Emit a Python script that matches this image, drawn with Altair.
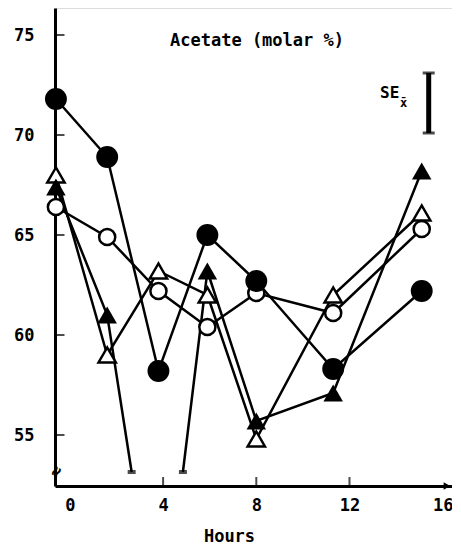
import altair as alt
import pandas as pd

# ---- data ----
hours = [-0.6, 1.6, 3.8, 5.9, 8.0, 11.3, 15.1]
filled_circle = [71.8, 68.9, 58.2, 65.0, 62.7, 58.3, 62.2]
open_circle = [66.4, 64.9, 62.2, 60.4, 62.1, 61.1, 65.3]
filled_triangle = [67.4, 61.0, None, 63.2, 55.7, 57.1, 68.2]   # 4 h value off scale
open_triangle = [68.0, 59.0, 63.2, 62.0, 54.8, 62.0, 66.1]
break_hours = [2.65, 4.85]      # where the off-scale line is cut
break_level = 53.15
y_ticks = [55, 60, 65, 70, 75]
x_ticks = [0, 4, 8, 12, 16]
se_hour = 15.4
se_top = 73.1
se_len = 3.0
title_text = "Acetate (molar %)"

FONT = "DejaVu Sans Mono"

series = {
    "fc": filled_circle,
    "oc": open_circle,
    "ft": filled_triangle,
    "ot": open_triangle,
}

line_rows, point_rows, break_rows = [], [], []
for name, vals in series.items():
    seg = 0
    for i, (h, v) in enumerate(zip(hours, vals)):
        if v is None:
            line_rows.append({"s": name, "seg": f"{name}{seg}", "h": break_hours[0], "v": break_level})
            break_rows.append({"h": break_hours[0], "v": break_level})
            seg += 1
            line_rows.append({"s": name, "seg": f"{name}{seg}", "h": break_hours[1], "v": break_level})
            break_rows.append({"h": break_hours[1], "v": break_level})
            continue
        line_rows.append({"s": name, "seg": f"{name}{seg}", "h": h, "v": v})
        point_rows.append({"s": name, "h": h, "v": v})

lines_df = pd.DataFrame(line_rows)
pts_df = pd.DataFrame(point_rows)
brk_df = pd.DataFrame(break_rows)

xs = alt.Scale(domain=[-0.64, 16.4], nice=False, zero=False)
ys = alt.Scale(domain=[52.45, 76.35], nice=False, zero=False)

X = alt.X("h:Q", scale=xs,
          axis=alt.Axis(values=x_ticks, ticks=False, labelPadding=11, grid=False,
                        title="Hours", titleX=174, titleY=42, titleBaseline="top",
                        titleFont=FONT, titleFontSize=17, titleFontWeight="bold",
                        labelFont=FONT, labelFontSize=17, labelFontWeight="bold",
                        labelColor="black", titleColor="black",
                        domainColor="black", domainWidth=3))
Y = alt.Y("v:Q", scale=ys,
          axis=alt.Axis(values=y_ticks, ticks=False, labelPadding=21, grid=False,
                        title=None,
                        labelFont=FONT, labelFontSize=17, labelFontWeight="bold",
                        labelColor="black", domainColor="black", domainWidth=3))

lines = alt.Chart(lines_df).mark_line(color="black", strokeWidth=2.5).encode(
    x=X, y=Y, detail="seg:N", order="h:Q")

def pts(name, **kw):
    return alt.Chart(pts_df).transform_filter(alt.datum.s == name).mark_point(
        opacity=1, **kw).encode(x=alt.X("h:Q", scale=xs), y=alt.Y("v:Q", scale=ys))

ot = pts("ot", shape="triangle-up", filled=True, fill="white", stroke="black",
         strokeWidth=2.5, size=300)
oc = pts("oc", shape="circle", filled=True, fill="white", stroke="black",
         strokeWidth=2.5, size=260)
ft = pts("ft", shape="triangle-up", filled=True, fill="black", size=380)
fc = pts("fc", shape="circle", filled=True, fill="black", size=480)

brk = alt.Chart(brk_df).mark_tick(color="black", thickness=4, size=8,
                                  orient="horizontal").encode(
    x=alt.X("h:Q", scale=xs), y=alt.Y("v:Q", scale=ys))

yt = alt.Chart(pd.DataFrame({"v": y_ticks})).mark_tick(
    color="black", thickness=2, size=9, orient="horizontal").encode(
    y=alt.Y("v:Q", scale=ys), x=alt.value(5))
xt = alt.Chart(pd.DataFrame({"h": x_ticks[1:4]})).mark_tick(
    color="black", thickness=2, size=8, orient="vertical").encode(
    x=alt.X("h:Q", scale=xs), y=alt.value(473))

se_df = pd.DataFrame({"h": [se_hour], "top": [se_top], "bot": [se_top - se_len]})
se_bar = alt.Chart(se_df).mark_rule(color="black", strokeWidth=5).encode(
    x=alt.X("h:Q", scale=xs), y=alt.Y("top:Q", scale=ys), y2="bot:Q")
se_caps = alt.Chart(pd.DataFrame({"h": [se_hour, se_hour],
                                  "v": [se_top, se_top - se_len]})).mark_tick(
    color="black", thickness=3, size=12, orient="horizontal").encode(
    x=alt.X("h:Q", scale=xs), y=alt.Y("v:Q", scale=ys))

se_txt = alt.Chart(pd.DataFrame({"t": ["SE"]})).mark_text(
    font=FONT, fontSize=16, fontWeight="bold", align="left", baseline="middle",
    color="black").encode(text="t:N", x=alt.value(325), y=alt.value(85))
se_sub = alt.Chart(pd.DataFrame({"t": ["x̄"]})).mark_text(
    font=FONT, fontSize=12, fontWeight="bold", align="left", baseline="middle",
    color="black").encode(text="t:N", x=alt.value(345), y=alt.value(95))

title = alt.Chart(pd.DataFrame({"t": [title_text]})).mark_text(
    font=FONT, fontSize=17, fontWeight="bold", align="center", baseline="middle",
    color="black").encode(text="t:N", x=alt.value(202), y=alt.value(33))

arrow = alt.Chart(pd.DataFrame({"a": [1]})).mark_point(
    shape="triangle-right", filled=True, color="black", size=60, opacity=1).encode(
    x=alt.value(392), y=alt.value(478))

axbreak = alt.Chart(pd.DataFrame({"t": ["≈"]})).mark_text(
    font=FONT, fontSize=18, fontWeight="bold", angle=300, color="black").encode(
    text="t:N", x=alt.value(2), y=alt.value(464))

chart = alt.layer(
    lines, brk, yt, xt, ot, oc, ft, fc, se_bar, se_caps, se_txt, se_sub,
    title, arrow, axbreak
).properties(
    width=397, height=478,
    autosize=alt.AutoSizeParams(type="none"),
    padding={"left": 47, "top": 0, "right": 0, "bottom": 64},
).configure_view(stroke=None).configure(background="white")

chart.save("out.html", embed_options={"renderer": "svg", "actions": False})
